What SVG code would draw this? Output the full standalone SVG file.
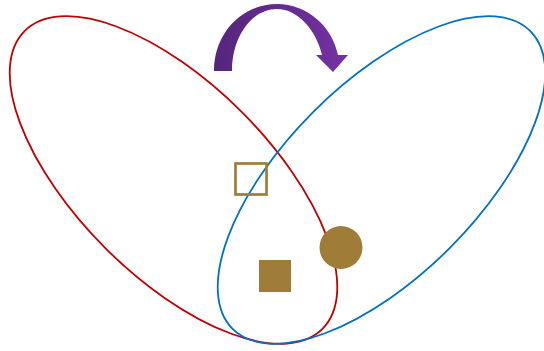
<svg xmlns="http://www.w3.org/2000/svg" width="544" height="351" viewBox="0 0 544 351">
<defs>
<linearGradient id="pg" x1="0" y1="0" x2="1" y2="0">
<stop offset="0" stop-color="#55257b"/>
<stop offset="1" stop-color="#7432a4"/>
</linearGradient>
<style>
.ring{fill:none;stroke-width:1.8}
.gold{fill:#a07c39}
</style>
</defs>
<rect width="544" height="351" fill="#fff"/>
<g id="red-set"><ellipse class="ring" stroke="#c00000" cx="173.5" cy="180" rx="210.6" ry="96.4" transform="rotate(45 173.5 180)"/></g>
<g id="blue-set"><ellipse class="ring" stroke="#0070c0" cx="381.5" cy="180" rx="210.6" ry="96.4" transform="rotate(-45 381.5 180)"/></g>
<g id="hollow-square"><rect x="235.5" y="163.5" width="31" height="31" fill="none" stroke="#a07c39" stroke-width="2.7"/></g>
<g id="filled-square"><rect class="gold" x="259" y="260" width="32" height="32"/></g>
<g id="circle"><circle class="gold" cx="341" cy="247.5" r="21.5"/></g>
<g id="connectors">
<path fill="url(#pg)" d="M214,71 C214,32 243,4 277,4 C307,4 332,26 338,55 L348,55 L333,72 L316,55 L322,55 C316,30 298,9 277,9 C252,9 232,36 232,71 Z"/>
</g>
</svg>
